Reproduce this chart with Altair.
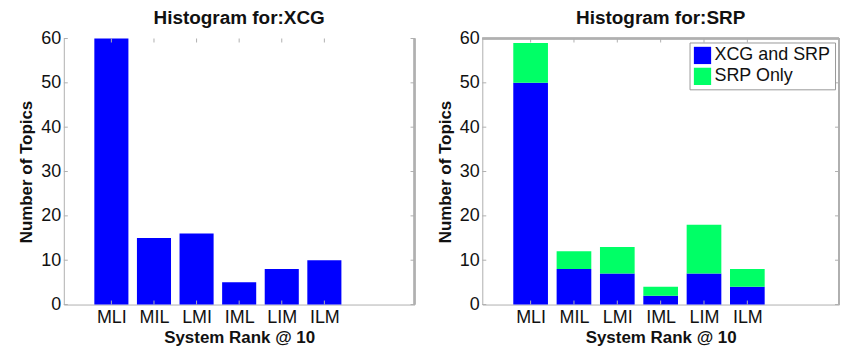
import altair as alt
import pandas as pd

categories = ["MLI", "MIL", "LMI", "IML", "LIM", "ILM"]
positions = [1, 2, 3, 4, 5, 6]
xcg_counts = [60, 15, 16, 5, 8, 10]
srp_both = [50, 8, 7, 2, 7, 4]
srp_only = [9, 4, 6, 2, 11, 4]
series_names = ["XCG and SRP", "SRP Only"]
y_ticks = [0, 10, 20, 30, 40, 50, 60]

FONT = "Liberation Sans"
AX_GRAY = "#b0b0b0"

label_expr = " : ".join(
    [f"datum.value == {p} ? '{c}'" for p, c in zip(positions, categories)]
) + " : ''"

df_xcg = pd.DataFrame({"cat": categories, "pos": positions, "count": xcg_counts})

rows = []
for p, c, b, o in zip(positions, categories, srp_both, srp_only):
    rows.append({"cat": c, "pos": p, "series": series_names[0], "count": b, "order": 0})
    rows.append({"cat": c, "pos": p, "series": series_names[1], "count": o, "order": 1})
df_srp = pd.DataFrame(rows)

df_yt = pd.DataFrame({"v": y_ticks})
df_xt = pd.DataFrame({"p": positions})

x_scale = alt.Scale(domain=[0, 8], nice=False, zero=False)
y_scale = alt.Scale(domain=[0, 60], nice=False)

x_axis = alt.Axis(
    values=positions, labelExpr=label_expr, title="System Rank @ 10",
    grid=False, ticks=False, domainColor=AX_GRAY, labelFontSize=18,
    labelFont=FONT, labelColor="#111", titleFont=FONT, titleFontSize=17,
    titleFontWeight="bold", titleColor="#111", labelPadding=4, titlePadding=3,
)
y_axis = alt.Axis(
    values=y_ticks, title="Number of Topics", grid=False, ticks=False,
    domainColor=AX_GRAY, labelFontSize=18, labelFont=FONT, labelColor="#111",
    titleFont=FONT, titleFontSize=17, titleFontWeight="bold", titleColor="#111",
    labelPadding=3, titlePadding=5,
)


def decorations(w, h, top_line=True):
    yl = alt.Chart(df_yt).mark_rule(color=AX_GRAY, strokeWidth=1).encode(
        y=alt.Y("v:Q", scale=y_scale), x=alt.value(0), x2=alt.value(4))
    yr = alt.Chart(df_yt).mark_rule(color=AX_GRAY, strokeWidth=1).encode(
        y=alt.Y("v:Q", scale=y_scale), x=alt.value(w - 4), x2=alt.value(w))
    xb = alt.Chart(df_xt).mark_rule(color=AX_GRAY, strokeWidth=1).encode(
        x=alt.X("p:Q", scale=x_scale), y=alt.value(h - 4), y2=alt.value(h))
    xt = alt.Chart(df_xt).mark_rule(color=AX_GRAY, strokeWidth=1).encode(
        x=alt.X("p:Q", scale=x_scale), y=alt.value(0), y2=alt.value(4))
    right = alt.Chart(df_yt).mark_rule(color=AX_GRAY, strokeWidth=1.5).encode(
        x=alt.value(w), y=alt.value(0), y2=alt.value(h))
    layers = [yl, yr, xb, xt, right]
    if top_line:
        top = alt.Chart(df_yt).mark_rule(color=AX_GRAY, strokeWidth=1.5).encode(
            x=alt.value(0), x2=alt.value(w), y=alt.value(0))
        layers.append(top)
    return layers


W1, H1 = 352, 267
W2, H2 = 358, 267

bars1 = alt.Chart(df_xcg).transform_calculate(
    x0="datum.pos - 0.4", x1="datum.pos + 0.4"
).mark_bar(color="#0000FF", orient="vertical").encode(
    x=alt.X("x0:Q", scale=x_scale, axis=x_axis),
    x2="x1:Q",
    y=alt.Y("count:Q", scale=y_scale, axis=y_axis),
    y2=alt.datum(0),
)

left = alt.layer(bars1, *decorations(W1, H1, top_line=False)).properties(
    width=W1, height=H1,
    title=alt.TitleParams("Histogram for:XCG", font=FONT, fontSize=19,
                          fontWeight="bold", color="#111", offset=2),
    view=alt.ViewBackground(stroke=None),
)

bars2 = alt.Chart(df_srp).transform_calculate(
    x0="datum.pos - 0.4", x1="datum.pos + 0.4"
).transform_stack(
    stack="count", groupby=["pos"], as_=["y0", "y1"],
    sort=[alt.SortField("order", order="ascending")],
).mark_bar(orient="vertical").encode(
    x=alt.X("x0:Q", scale=x_scale, axis=x_axis),
    x2="x1:Q",
    y=alt.Y("y1:Q", scale=y_scale, axis=y_axis),
    y2="y0:Q",
    color=alt.Color(
        "series:N",
        scale=alt.Scale(domain=series_names, range=["#0000FF", "#00FF66"]),
        legend=alt.Legend(
            title=None, orient="top-right", offset=4, symbolType="square",
            symbolSize=300, symbolStrokeWidth=0, labelFont=FONT, labelFontSize=18,
            labelColor="#111", strokeColor="#999", fillColor="white",
            padding=4, rowPadding=3, labelOffset=3,
        ),
    ),
)

right = alt.layer(bars2, *decorations(W2, H2, top_line=True)).properties(
    width=W2, height=H2,
    title=alt.TitleParams("Histogram for:SRP", font=FONT, fontSize=19,
                          fontWeight="bold", color="#111", offset=2),
    view=alt.ViewBackground(stroke=None),
)

chart = alt.hconcat(left, right, spacing=20).resolve_scale(
    color="independent"
).resolve_legend(color="independent").properties(
    padding={"left": 9, "top": 0, "right": 2, "bottom": 2}
).configure_view(stroke=None)

chart.save("out.html", embed_options={"renderer": "svg", "actions": False})
